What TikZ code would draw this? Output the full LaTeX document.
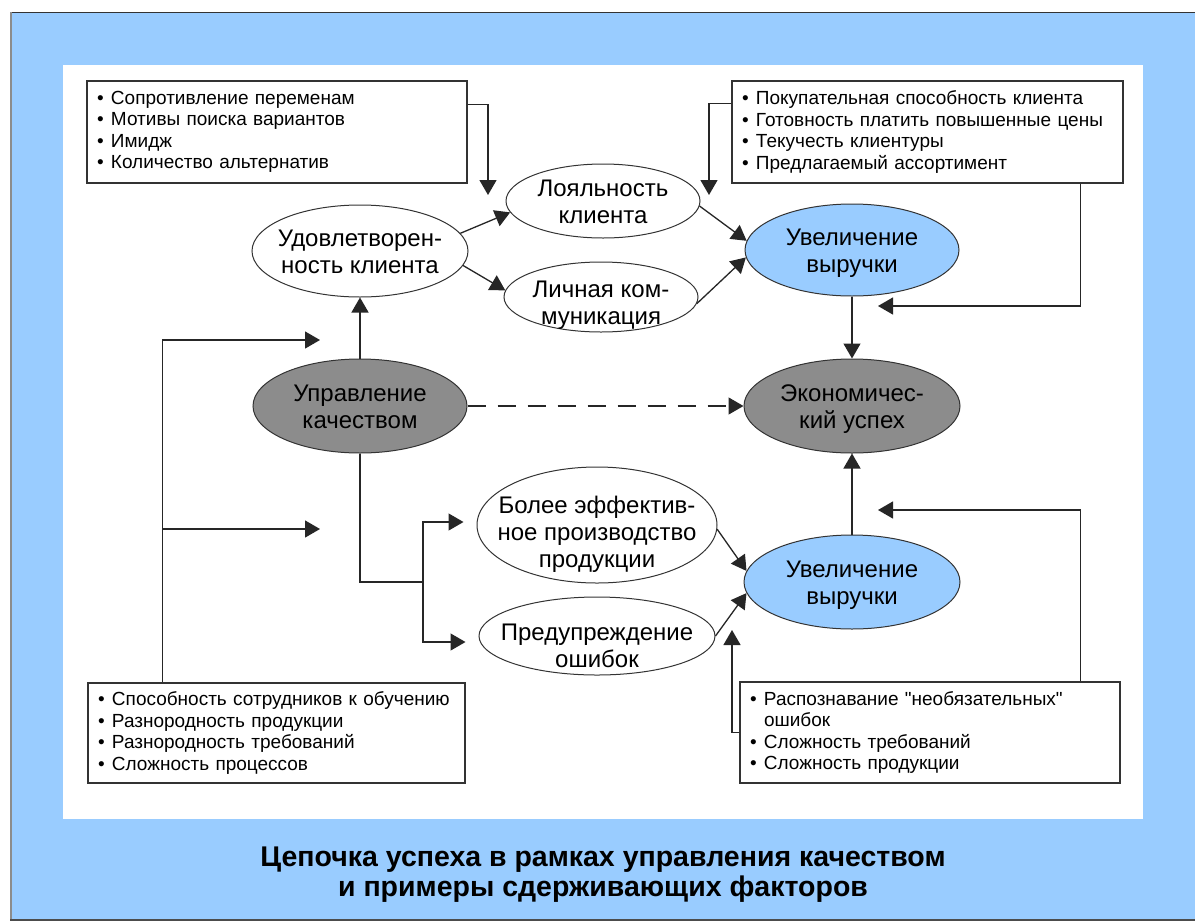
\documentclass[tikz,border=0pt]{standalone}
\usepackage{fontspec}
\setmainfont{Liberation Sans}
\usetikzlibrary{shapes.geometric,arrows.meta,calc}
\definecolor{bgblue}{HTML}{99CCFF}
\definecolor{ellgray}{HTML}{8C8C8C}
\newcommand\bul{\makebox[14pt][l]{\textbullet}}
\newcommand\zt[2][10]{\makebox[0pt]{\smash{\raisebox{-#1pt}{\begin{tabular}{@{}c@{}}#2\end{tabular}}}}}
\begin{document}
\begin{tikzpicture}[x=1pt,y=-1pt,
  ell/.style={ellipse, draw=black!80, line width=1pt, inner sep=0pt, fill=white,
    font=\fontsize{24}{27}\selectfont},
  blueell/.style={ell, fill=bgblue},
  grayell/.style={ell, fill=ellgray},
  factbox/.style={rectangle, draw=black!80, line width=1.3pt, fill=white,
    inner xsep=10pt, inner ysep=0pt, align=left,
    font=\fontsize{19}{21.5}\selectfont},
  arr/.style={-{Triangle[length=15pt,width=17pt]}, line width=1.3pt, draw=black!85},
  con/.style={line width=1.3pt, draw=black!85}]
\useasboundingbox (0,0) rectangle (1195,922);
\fill[white] (0,0) rectangle (1195,922);
\fill[bgblue] (11,12) rectangle (1195,920);
\draw[black!80, line width=1.5pt] (10,12.5) -- (1195,12.5);
\draw[black!45, line width=1.2pt] (11,12) -- (11,920);
\draw[black!70, line width=1.5pt] (10,920) -- (1195,920);
\fill[white] (63,65) rectangle (1143,819);

% boxes
\node[factbox, minimum width=380pt, minimum height=102pt, text width=360pt] (tlbox) at (277,132)
  {\bul Сопротивление переменам\\ \bul Мотивы поиска вариантов\\ \bul Имидж\\ \bul Количество альтернатив};
\node[factbox, minimum width=391pt, minimum height=102pt, text width=371pt] (trbox) at (927.5,132)
  {\bul Покупательная способность клиента\\ \bul Готовность платить повышенные цены\\ \bul Текучесть клиентуры\\ \bul Предлагаемый ассортимент};
\node[factbox, minimum width=377pt, minimum height=100pt, text width=357pt] (blbox) at (276.5,733)
  {\bul Способность сотрудников к обучению\\ \bul Разнородность продукции\\ \bul Разнородность требований\\ \bul Сложность процессов};
\node[factbox, minimum width=380pt, minimum height=101pt, text width=360pt] (brbox) at (930,732.5)
  {\bul Распознавание \textquotedbl необязательных\textquotedbl\\ \hspace*{14pt}ошибок\\ \bul Сложность требований\\ \bul Сложность продукции};

% ellipses
\node[ell, minimum width=216pt, minimum height=92pt] (sat) at (360,251) {\zt{Удовлетворен-\\ность клиента}};
\node[ell, minimum width=194pt, minimum height=74pt] (loy) at (603,201) {\zt{Лояльность\\клиента}};
\node[ell, minimum width=194pt, minimum height=70pt] (lich) at (601,297) {\zt[15]{Личная ком-\\муникация}};
\node[blueell, minimum width=214pt, minimum height=92pt] (uv1) at (852,250) {\zt{Увеличение\\выручки}};
\node[grayell, minimum width=214pt, minimum height=94pt] (upr) at (360,406) {\zt{Управление\\качеством}};
\node[grayell, minimum width=216pt, minimum height=94pt] (econ) at (852,406) {\zt{Экономичес-\\кий успех}};
\node[ell, minimum width=240pt, minimum height=116pt] (bolee) at (597,525) {\zt[16]{Более эффектив-\\ное производство\\продукции}};
\node[ell, minimum width=236pt, minimum height=78pt] (pred) at (597,636) {\zt[19]{Предупреждение\\ошибок}};
\node[blueell, minimum width=216pt, minimum height=94pt] (uv2) at (852,582) {\zt{Увеличение\\выручки}};

% caption
\node[align=center, font=\fontsize{28.5}{30}\selectfont\bfseries] (cap) at (603,875)
  {Цепочка успеха в рамках управления качеством\\и примеры сдерживающих факторов};

% free ends
\coordinate (ftl) at (488,195);
\coordinate (ftr) at (709,195);
\coordinate (frt) at (878,306);
\coordinate (fa) at (320,340);
\coordinate (fb) at (320,529);
\coordinate (bm) at (163,529);
\coordinate (j1) at (423,582);
\coordinate (fbr) at (732,630);
\coordinate (frb) at (878,510);

% connectors
\draw[arr] ($(tlbox.north east)+(0,24)$) -| (ftl);
\draw[arr] ($(trbox.north west)+(0,23)$) -| (ftr);
\draw[arr] ($(trbox.south east)+(-43,0)$) |- (frt);
\draw[arr] (sat.10) -- (loy.187);
\draw[arr] (sat.-8) -- (lich.176);
\draw[arr] (loy.-3) -- (uv1.175);
\draw[arr] (lich.-4) -- (uv1.184);
\draw[arr] (uv1.south) -- (econ.north);
\draw[arr] (upr.north) -- (sat.south);
\draw[arr, dash pattern=on 18pt off 12pt] (upr.east) -- (econ.west);
\draw[con] (upr.south) |- (j1);
\draw[arr] ($(j1)+(0,2)$) |- ($(bolee.west)+(-13,-3)$);
\draw[arr] ($(j1)+(0,-2)$) |- ($(pred.west)+(-13,6)$);
\draw[arr] ($(blbox.north west)+(75,0)$) |- (fa);
\draw[arr] (bm) -- (fb);
\draw[arr] (bolee.-2) -- (uv2.174);
\draw[arr] (pred.0) -- (uv2.186);
\draw[arr] (uv2.north) -- (econ.south);
\draw[arr] (brbox.west) -| (fbr);
\draw[arr] ($(brbox.north east)+(-40,0)$) |- (frb);
\end{tikzpicture}
\end{document}
